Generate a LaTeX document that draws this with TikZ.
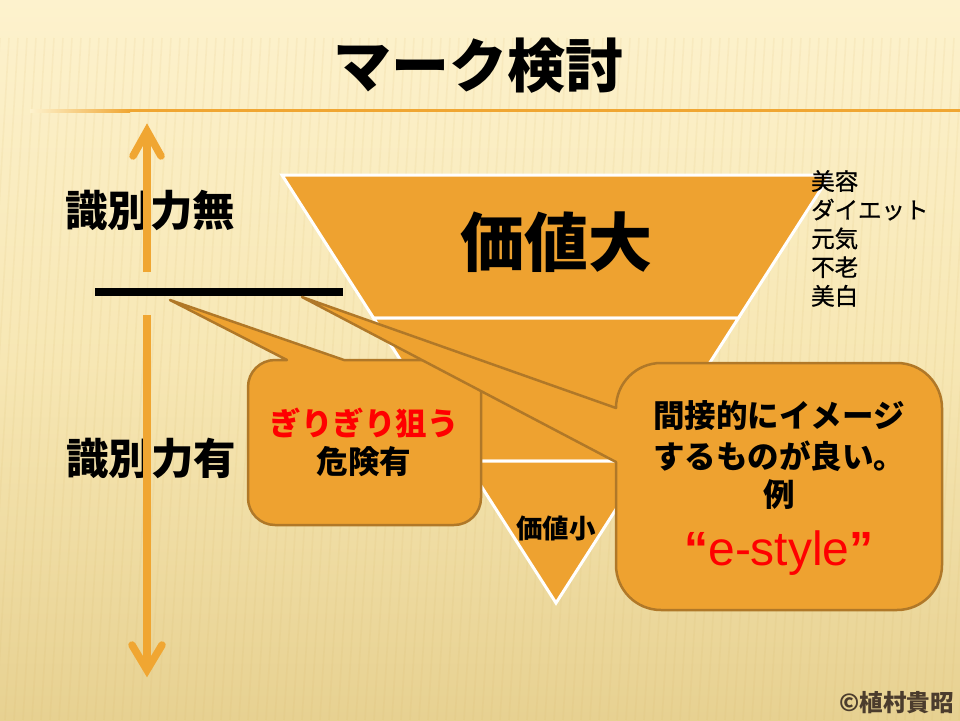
\documentclass[tikz,border=0pt]{standalone}
\usepackage{fontspec}
\setmainfont{Noto Sans CJK JP}
\newfontfamily\medfont[FakeBold=0.8]{Noto Sans CJK JP}
\newfontfamily\arial{Liberation Sans}
\definecolor{org}{RGB}{238,162,48}
\definecolor{brd}{RGB}{176,120,40}
\definecolor{arr}{RGB}{240,166,50}
\definecolor{bgt}{RGB}{253,242,205}
\definecolor{bgm}{RGB}{247,231,180}
\definecolor{bgb}{RGB}{231,209,145}
\definecolor{stripe}{RGB}{214,180,100}
\definecolor{copyc}{RGB}{75,60,45}
\tikzset{
  band/.style={fill=org, draw=white, line width=3pt, line join=miter},
  callout/.style={fill=org, draw=brd, line width=2.5pt, line join=round},
  arrline/.style={draw=arr, line width=7.5pt, line cap=round, line join=miter},
  ttl/.style={font=\fontsize{58}{62}\selectfont\bfseries, inner sep=0pt},
  side/.style={font=\fontsize{42.5}{46}\selectfont\bfseries, inner sep=0pt},
  big/.style={font=\fontsize{64}{68}\selectfont\bfseries, inner sep=0pt},
  small/.style={font=\fontsize{26.5}{30}\selectfont\bfseries, inner sep=0pt},
  lst/.style={font=\medfont\fontsize{23.5}{28.7}\selectfont, inner sep=0pt, align=left, anchor=north west},
  ctext/.style={font=\fontsize{31.5}{34}\selectfont\bfseries, inner sep=0pt},
}
\begin{document}
\begin{tikzpicture}[x=1pt,y=1pt]
\useasboundingbox (0,0) rectangle (960,-720);
% background
\shade[top color=bgt, bottom color=bgb, middle color=bgm] (0,0) rectangle (960,-720);
\foreach \i in {0,9,...,1020} {
  \draw[stripe, opacity=0.10, line width=1.6pt] (\i,-38) -- (\i-40,-720);
}
% title
\node[ttl] (title) at (478,-66) {マーク検討};
\shade[left color=bgt, right color=arr] (30,-109) rectangle (130,-112);
\fill[arr] (130,-109) rectangle (960,-112);

% funnel
\path[band] (282,-175) -- (830,-175) -- (738.4,-318) -- (373.6,-318) -- cycle;
\path[band] (373.6,-318) -- (738.4,-318) -- (646.9,-461) -- (465.1,-461) -- cycle;
\path[band] (465.1,-461) -- (646.9,-461) -- (556,-603) -- cycle;
\node[big] (vbig) at (556,-242) {価値大};
\node[small] (vsmall) at (556,-528) {価値小};

% list
\node[lst] (list) at (811,-170) {美容\\ダイエット\\元気\\不老\\美白};

% side labels
\node[side] (nolab) at (150,-210) {識別力無};
\node[side] (yeslab) at (151,-458) {識別力有};

% vertical arrow
\coordinate (uBase) at (147,-272);
\coordinate (uTip) at (147,-131);
\coordinate (uL) at (133,-156);
\coordinate (uR) at (161,-156);
\coordinate (dBase) at (147,-315);
\coordinate (dTip) at (147,-670);
\coordinate (dL) at (132,-645);
\coordinate (dR) at (162,-645);
\draw[arrline, line cap=butt] (uBase) -- (uTip);
\draw[arrline] (uL) -- (uTip) -- (uR);
\draw[arrline, line cap=butt] (dBase) -- (dTip);
\draw[arrline] (dL) -- (dTip) -- (dR);

% threshold line
\coordinate (thA) at (95,-292);
\coordinate (thB) at (343,-292);
\draw[line width=8pt] (thA) -- (thB);

% callout 1
\path[callout] (275,-360) -- (287,-360) -- (170,-300) -- (344,-360) -- (454,-360)
  arc[start angle=90,end angle=0,radius=27] -- (481,-498)
  arc[start angle=0,end angle=-90,radius=27] -- (275,-525)
  arc[start angle=270,end angle=180,radius=27] -- (248,-387)
  arc[start angle=180,end angle=90,radius=27] -- cycle;
\node[ctext, text=red] (c1a) at (364,-423) {ぎりぎり狙う};
\node[ctext] (c1b) at (364,-462) {危険有};

% callout 2
\path[callout] (661,-363) -- (897,-363)
  arc[start angle=90,end angle=0,radius=45] -- (942,-565)
  arc[start angle=0,end angle=-90,radius=45] -- (661,-610)
  arc[start angle=270,end angle=180,radius=45] -- (616,-462)
  -- (302,-297) -- (616,-408)
  arc[start angle=180,end angle=90,radius=45] -- cycle;
\node[ctext] (c2a) at (779,-416) {間接的にイメージ};
\node[ctext] (c2b) at (779,-456) {するものが良い。};
\node[ctext] (c2c) at (779,-495) {例};
\node[font=\arial\fontsize{48}{52}\selectfont, text=red, inner sep=0pt, anchor=base] (c2d) at (779,-565) {{\bfseries “}e-style{\bfseries ”}};

% copyright
\node[font=\fontsize{23.5}{26}\selectfont\bfseries, text=copyc, inner sep=0pt, anchor=east] (copy) at (954,-703) {©植村貴昭};
\end{tikzpicture}
\end{document}
